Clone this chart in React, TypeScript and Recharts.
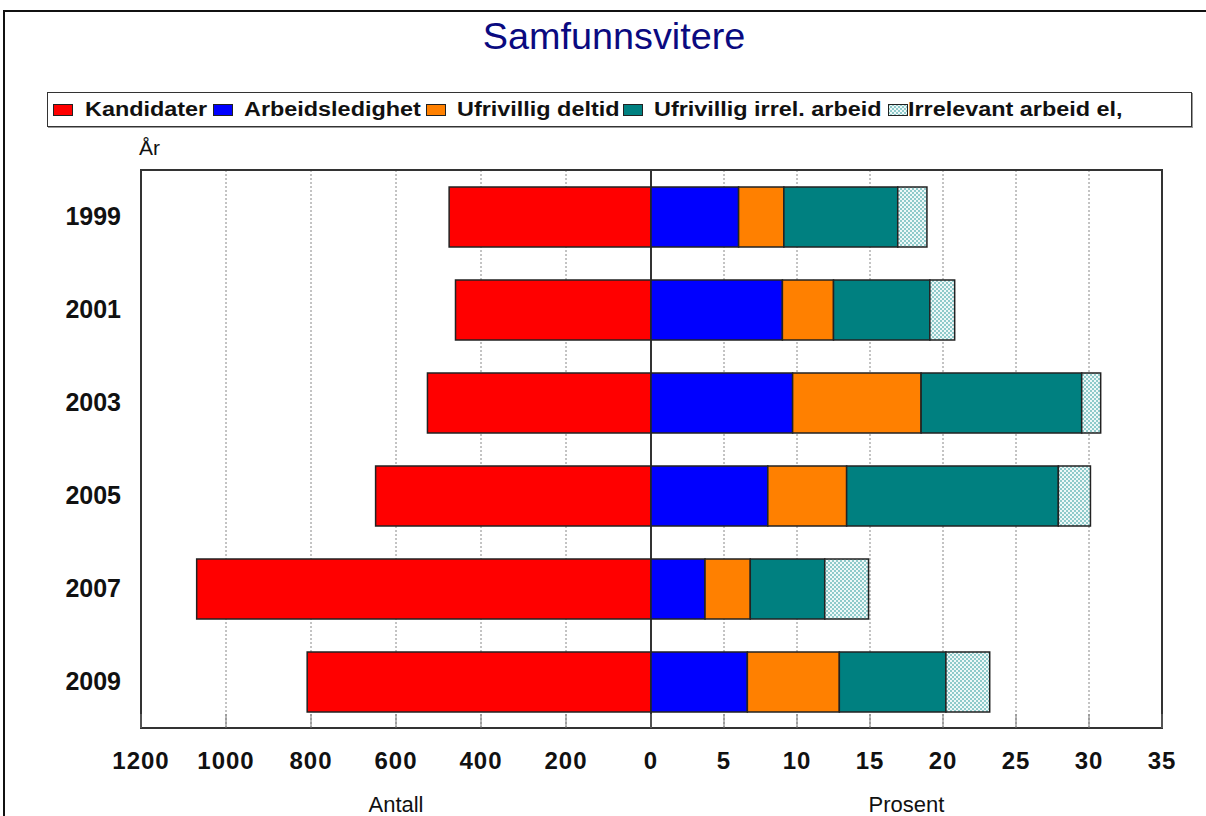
import React from "react";
import { BarChart, Bar, XAxis, YAxis, CartesianGrid, ReferenceArea } from "recharts";

const years = ["1999", "2001", "2003", "2005", "2007", "2009"];
const kandidater = [475, 460, 526, 648, 1069, 809];
const arbeidsledighet = [6.0, 9.0, 9.7, 8.0, 3.7, 6.6];
const deltid = [3.1, 3.5, 8.8, 5.4, 3.1, 6.3];
const irrelArbeid = [7.8, 6.6, 11.0, 14.5, 5.1, 7.3];
const irrelevant = [2.0, 1.7, 1.3, 2.2, 3.0, 3.0];

const antallTicks = [200, 400, 600, 800, 1000, 1200];
const prosentTicks = [0, 5, 10, 15, 20, 25, 30, 35];

const seriesNames = [
  "Kandidater",
  "Arbeidsledighet",
  "Ufrivillig deltid",
  "Ufrivillig irrel. arbeid",
  "Irrelevant arbeid el,",
];
const seriesColors = ["#ff0000", "#0000ff", "#ff8000", "#008080", "url(#hatch)"];

const data = years.map((year, i) => ({
  year,
  kandidater: kandidater[i],
  arbeidsledighet: arbeidsledighet[i],
  deltid: deltid[i],
  irrelArbeid: irrelArbeid[i],
  irrelevant: irrelevant[i],
}));

const FONT = 'Arial, "Liberation Sans", sans-serif';
const barStroke = "#222";

// legend cell widths / text gaps, matched to the original (the 4th label is clipped)
const legendCells = [
  { w: 160, gap: 12 },
  { w: 213, gap: 11 },
  { w: 197, gap: 11 },
  { w: 265, gap: 11 },
  { w: 290, gap: 0 },
];

const tickStyle = { fill: "#111", fontSize: 24, fontWeight: "bold", letterSpacing: 1 };

const Legend = () => (
  <div
    style={{
      position: "absolute",
      left: 47,
      top: 92,
      width: 1138,
      height: 33,
      border: "1px solid #333",
      boxShadow: "1px 1px 0 #999",
      display: "flex",
      alignItems: "center",
      paddingLeft: 5,
      boxSizing: "content-box",
      overflow: "hidden",
    }}
  >
    {seriesNames.map((name, i) => (
      <div
        key={name}
        style={{
          width: legendCells[i].w,
          display: "flex",
          alignItems: "center",
          overflow: "hidden",
          whiteSpace: "nowrap",
          flexShrink: 0,
        }}
      >
        <svg width={20} height={12} style={{ flexShrink: 0 }}>
          <rect x={0.5} y={0.5} width={19} height={11} fill={seriesColors[i]} stroke="#222" />
        </svg>
        <span
          style={{
            marginLeft: legendCells[i].gap,
            fontSize: 20,
            fontWeight: "bold",
            color: "#111",
            display: "inline-block",
            transform: "scaleX(1.17)",
            transformOrigin: "left center",
          }}
        >
          {name}
        </span>
      </div>
    ))}
  </div>
);

export default function App() {
  return (
    <div
      style={{
        position: "fixed",
        left: 0,
        top: 0,
        width: 1206,
        height: 816,
        overflow: "hidden",
        background: "#fff",
        fontFamily: FONT,
      }}
    >
      <svg width={0} height={0} style={{ position: "absolute" }}>
        <defs>
          <pattern id="hatch" width={4} height={4} patternUnits="userSpaceOnUse">
            <rect width={4} height={4} fill="#eef8f8" />
            <rect x={0} y={0} width={2} height={2} fill="#8fcaca" />
            <rect x={2} y={2} width={2} height={2} fill="#8fcaca" />
          </pattern>
        </defs>
      </svg>

      {/* outer frame lines, cut off at right and bottom in the original */}
      <div style={{ position: "absolute", left: 3, top: 10, width: 1203, height: 2, background: "#111" }} />
      <div style={{ position: "absolute", left: 3, top: 10, width: 2, height: 806, background: "#111" }} />

      <div
        style={{
          position: "absolute",
          left: 0,
          width: 1228,
          top: 16,
          textAlign: "center",
          fontSize: 36,
          color: "#0a0a80",
          transform: "scaleX(1.05)",
          transformOrigin: "614px 0",
        }}
      >
        Samfunnsvitere
      </div>

      <Legend />

      <div style={{ position: "absolute", left: 139, top: 136, fontSize: 21, color: "#111" }}>År</div>

      {/* left half: antall */}
      <div style={{ position: "absolute", left: 0, top: 0 }}>
        <BarChart
          width={651}
          height={816}
          data={data}
          layout="vertical"
          margin={{ top: 170, right: 0, bottom: 0, left: 0 }}
          style={{ fontFamily: FONT }}
        >
          <CartesianGrid horizontal={false} stroke="#888" strokeDasharray="2 2" />
          <XAxis
            type="number"
            domain={[0, 1200]}
            reversed
            ticks={antallTicks}
            interval={0}
            height={88}
            tickSize={-14}
            tickMargin={38}
            tickLine={{ stroke: "#777" }}
            axisLine={{ stroke: "#333", strokeWidth: 2 }}
            tick={tickStyle}
            label={{ value: "Antall", position: "insideBottom", offset: 4, fill: "#111", fontSize: 22 }}
          />
          <YAxis
            type="category"
            dataKey="year"
            width={141}
            axisLine={false}
            tickLine={false}
            tickSize={0}
            tickMargin={20}
            tick={{ fill: "#111", fontSize: 25, fontWeight: "bold" }}
          />
          <Bar
            dataKey="kandidater"
            name={seriesNames[0]}
            fill={seriesColors[0]}
            stroke={barStroke}
            strokeWidth={1.5}
            barSize={60}
            isAnimationActive={false}
          />
          <ReferenceArea x1={0} x2={1200} fill="none" stroke="#333" strokeWidth={2} ifOverflow="visible" />
        </BarChart>
      </div>

      {/* right half: prosent (svg starts a bit left of the zero line so the "0" label is not clipped) */}
      <div style={{ position: "absolute", left: 600, top: 0 }}>
        <BarChart
          width={596}
          height={816}
          data={data}
          layout="vertical"
          margin={{ top: 170, right: 34, bottom: 0, left: 51 }}
          style={{ fontFamily: FONT }}
        >
          <CartesianGrid horizontal={false} stroke="#888" strokeDasharray="2 2" />
          <XAxis
            type="number"
            domain={[0, 35]}
            ticks={prosentTicks}
            interval={0}
            height={88}
            tickSize={-14}
            tickMargin={38}
            tickLine={{ stroke: "#777" }}
            axisLine={{ stroke: "#333", strokeWidth: 2 }}
            tick={tickStyle}
            label={{ value: "Prosent", position: "insideBottom", offset: 4, fill: "#111", fontSize: 22 }}
          />
          <YAxis type="category" dataKey="year" hide width={0} />
          <Bar dataKey="arbeidsledighet" name={seriesNames[1]} stackId="p" fill={seriesColors[1]} stroke={barStroke} strokeWidth={1.5} barSize={60} isAnimationActive={false} />
          <Bar dataKey="deltid" name={seriesNames[2]} stackId="p" fill={seriesColors[2]} stroke={barStroke} strokeWidth={1.5} barSize={60} isAnimationActive={false} />
          <Bar dataKey="irrelArbeid" name={seriesNames[3]} stackId="p" fill={seriesColors[3]} stroke={barStroke} strokeWidth={1.5} barSize={60} isAnimationActive={false} />
          <Bar dataKey="irrelevant" name={seriesNames[4]} stackId="p" fill={seriesColors[4]} stroke={barStroke} strokeWidth={1.5} barSize={60} isAnimationActive={false} />
          <ReferenceArea x1={0} x2={35} fill="none" stroke="#333" strokeWidth={2} ifOverflow="visible" />
        </BarChart>
      </div>
    </div>
  );
}
